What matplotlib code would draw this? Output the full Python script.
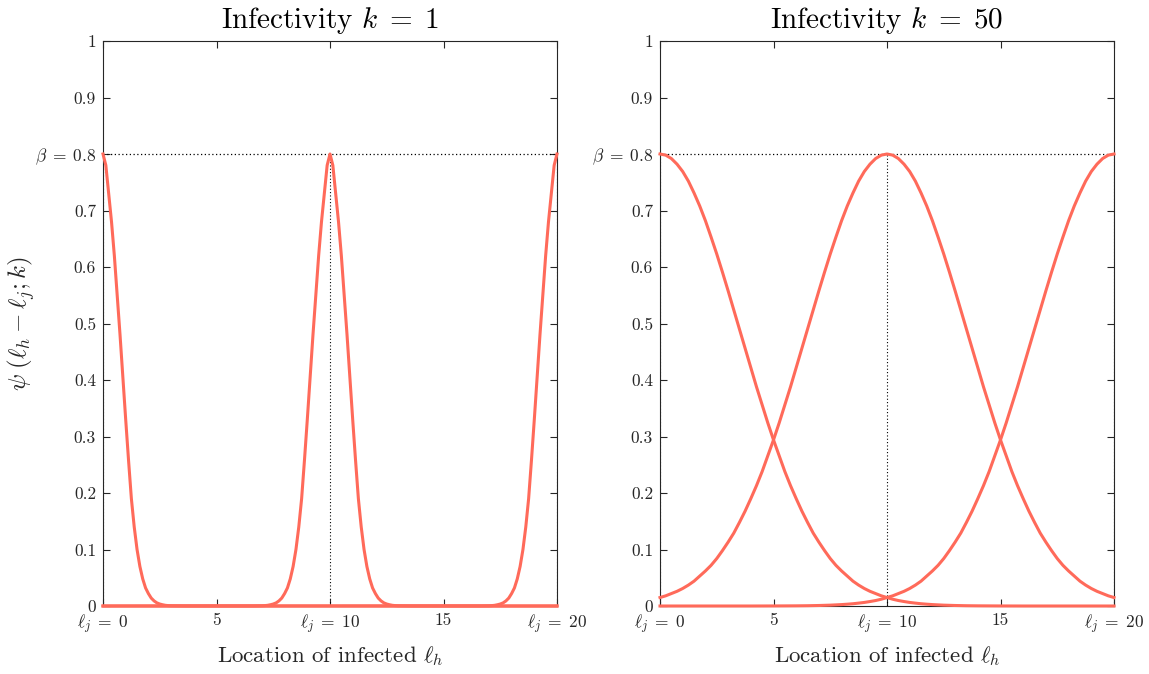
import numpy as np
import matplotlib
matplotlib.use("Agg")
import matplotlib.pyplot as plt

plt.rcParams['font.family'] = 'serif'
plt.rcParams['font.serif'] = ['cmr10', 'DejaVu Serif']
plt.rcParams['mathtext.fontset'] = 'cm'
plt.rcParams['axes.formatter.use_mathtext'] = True

# ---- data ----
beta = 0.8
centers = [0, 10, 20]                      # infected locations l_j
titles = [r"Infectivity $k\;=\;1$", r"Infectivity $k\;=\;50$"]

# left panel (k = 1): profile psi vs distance |l_h - l_j|, step 0.125
k1_dist = [0.0, 0.125, 0.25, 0.375, 0.5, 0.625, 0.75, 0.875, 1.0, 1.125, 1.25, 1.375, 1.5,
           1.625, 1.75, 1.875, 2.0, 2.125, 2.25, 2.375, 2.5, 2.625, 2.75, 2.875, 3.0, 3.25,
           3.5, 4.0, 20.0]
k1_psi = [0.800, 0.780, 0.730, 0.680, 0.620, 0.550, 0.480, 0.405, 0.330, 0.258, 0.190, 0.140,
          0.100, 0.070, 0.048, 0.032, 0.022, 0.014, 0.009, 0.0055, 0.0035, 0.0022, 0.0012,
          0.0007, 0.0004, 0.0002, 0.0001, 0.0, 0.0]

# right panel (k = 50): profile psi vs distance, step 0.25
k50_dist = [0.0, 0.25, 0.5, 0.75, 1.0, 1.25, 1.5, 1.75, 2.0, 2.25, 2.5, 2.75, 3.0, 3.25, 3.5,
            3.75, 4.0, 4.25, 4.5, 4.75, 5.0, 5.25, 5.5, 5.75, 6.0, 6.25, 6.5, 6.75, 7.0, 7.25,
            7.5, 7.75, 8.0, 8.25, 8.5, 8.75, 9.0, 9.25, 9.5, 9.75, 10.0, 10.25, 10.5, 10.75,
            11.0, 11.25, 11.5, 11.75, 12.0, 12.25, 12.5, 13.0, 13.5, 14.0, 14.5, 15.0, 16.0,
            20.0]
k50_psi = [0.800, 0.798, 0.792, 0.782, 0.769, 0.752, 0.731, 0.708, 0.682, 0.653, 0.623, 0.591,
           0.558, 0.524, 0.490, 0.456, 0.422, 0.388, 0.356, 0.324, 0.294, 0.266, 0.238, 0.213,
           0.190, 0.168, 0.148, 0.129, 0.113, 0.098, 0.084, 0.072, 0.062, 0.053, 0.044, 0.037,
           0.031, 0.026, 0.022, 0.018, 0.015, 0.012, 0.0097, 0.0079, 0.0063, 0.0051, 0.0040,
           0.0032, 0.0025, 0.0020, 0.0015, 0.0009, 0.0005, 0.0003, 0.0002, 0.0001, 0.0, 0.0]

y_ticks = [0, 0.1, 0.2, 0.3, 0.4, 0.5, 0.6, 0.7, 0.8, 0.9, 1]
y_labels = ["0", "0.1", "0.2", "0.3", "0.4", "0.5", "0.6", "0.7", r"$\beta\;=\;0.8$", "0.9", "1"]
x_ticks = [0, 5, 10, 15, 20]
x_labels = [r"$\ell_j\;=\;0$", "5", r"$\ell_j\;=\;10$", "15", r"$\ell_j\;=\;20$"]

profiles = [(k1_dist, k1_psi, 0.125), (k50_dist, k50_psi, 0.25)]

color = '#FF6A5A'
spine_col = '#262626'

fig = plt.figure(figsize=(11.49, 6.74), dpi=100)
axes = [fig.add_axes([103/1149, 68/674, 454/1149, 565/674]),
        fig.add_axes([660/1149, 68/674, 454/1149, 565/674])]

for ax, title, (dist, psi, step) in zip(axes, titles, profiles):
    grid = np.arange(0, 20 + step / 2, step)
    for c in centers:
        d = np.abs(grid - c)
        vals = np.interp(d, dist, psi)
        ax.plot(grid, vals, color=color, lw=2.2, clip_on=False, zorder=3,
                solid_joinstyle='round')
    ax.axhline(beta, color='black', lw=0.9, ls=(0, (1, 2)), zorder=2)
    for c in centers:
        ax.plot([c, c], [0, beta], color='black', lw=0.8, ls=(0, (1, 2)), zorder=2)
    ax.set_xlim(0, 20)
    ax.set_ylim(0, 1)
    ax.set_xticks(x_ticks)
    ax.set_xticklabels(x_labels)
    ax.set_yticks(y_ticks)
    ax.set_yticklabels(y_labels)
    ax.tick_params(direction='in', length=5, width=0.8, top=True, right=True,
                   labelsize=12.5, colors=spine_col, pad=5)
    for s in ax.spines.values():
        s.set_color(spine_col)
        s.set_linewidth(0.8)
    ax.set_title(title, fontsize=21, pad=9, color='black')
    ax.set_xlabel(r"Location of infected $\ell_h$", fontsize=16.5, labelpad=6, color=spine_col)

axes[0].set_ylabel(r"$\psi\;(\ell_h - \ell_j; k)$", fontsize=18, color=spine_col)
axes[0].yaxis.set_label_coords(-0.145, 0.5)

fig.savefig("out.png", dpi=100)
